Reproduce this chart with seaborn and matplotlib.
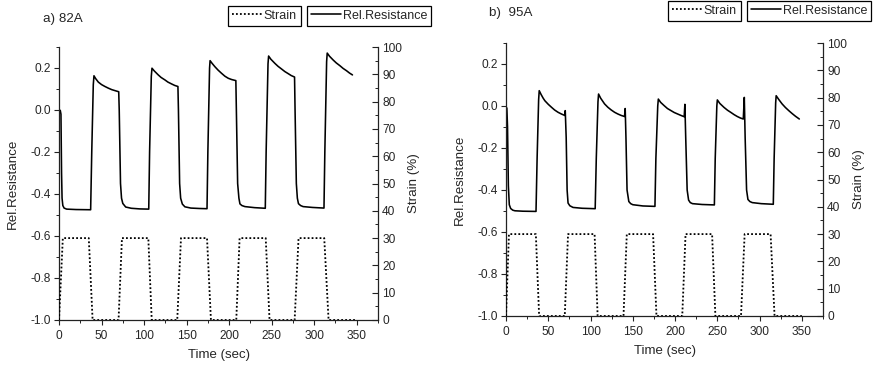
import numpy as np
import pandas as pd
import matplotlib
matplotlib.use("Agg")
import matplotlib.pyplot as plt
from matplotlib.ticker import MultipleLocator, FormatStrFormatter
import seaborn as sns

# ---------------- data ----------------
# Panel a) 82A
t_res_a = [0, 1.5, 2.3, 3.0, 3.6, 4.5, 6, 9, 20, 37.2,
           38.5, 40.3, 41.1,
           43, 46.2, 50, 54, 58, 62, 66, 70.2,
           70.8, 72.3, 73.5, 75, 78.4, 85, 95, 105.5,
           106.5, 108.5, 109.3,
           112, 116.7, 120, 124.6, 128, 132.4, 136, 139.8,
           140.4, 141.8, 143, 145, 148, 155, 165, 174,
           175, 177, 177.6,
           180, 183.3, 187, 191, 195, 199, 203, 207.9,
           208.5, 210, 211.5, 212.7, 215, 218.6, 230, 242.5,
           243.5, 245.7, 246.4,
           249, 253.8, 257.5, 261.7, 265.5, 269.5, 273, 276.9,
           277.5, 279, 280.2, 281.5, 284, 287, 298, 311.5,
           312.5, 314.6, 315.3,
           318, 322.3, 326, 330.2, 334, 338, 341.5, 345]
res_a = [0.0, -0.002, -0.02, -0.30, -0.42, -0.455, -0.467, -0.472, -0.474, -0.475,
         -0.2, 0.12, 0.163,
         0.15, 0.133, 0.121, 0.112, 0.104, 0.097, 0.092, 0.087,
         0.0, -0.35, -0.42, -0.445, -0.462, -0.468, -0.471, -0.472,
         -0.2, 0.16, 0.199,
         0.186, 0.167, 0.155, 0.143, 0.133, 0.124, 0.117, 0.112,
         0.0, -0.35, -0.42, -0.448, -0.461, -0.467, -0.469, -0.470,
         -0.2, 0.2, 0.235,
         0.222, 0.206, 0.19, 0.175, 0.161, 0.151, 0.145, 0.140,
         0.0, -0.35, -0.42, -0.447, -0.455, -0.46, -0.465, -0.468,
         -0.2, 0.22, 0.257,
         0.242, 0.222, 0.208, 0.195, 0.183, 0.173, 0.164, 0.157,
         0.0, -0.35, -0.42, -0.446, -0.455, -0.46, -0.464, -0.467,
         -0.2, 0.23, 0.271,
         0.256, 0.238, 0.224, 0.211, 0.198, 0.187, 0.176, 0.167]
t_str_a = [0, 4.5, 35, 39.5, 70, 74, 105, 109, 139, 143.4, 174, 178.6,
           208.4, 212.3, 243, 247.5, 277, 281.6, 311.8, 316.9, 350]
str_a = [0, 30, 30, 0, 0, 30, 30, 0, 0, 30, 30, 0,
         0, 30, 30, 0, 0, 30, 30, 0, 0]

# Panel b) 95A
t_res_b = [0, 1.0, 1.8, 2.8, 3.9, 5.5, 8, 10.6, 20, 35.5,
           36.8, 38.6, 39.3,
           41.5, 44, 46, 50, 53.8, 57.5, 61.6, 65.5, 69.5,
           70.1, 71.2, 72.3, 73.4, 75.5, 79.3, 90, 105.5,
           106.8, 108.8, 109.5,
           112, 116.6, 120.5, 124.5, 128.5, 132.3, 136.3, 140.2,
           141.0, 141.9, 143.2, 145.3, 147.5, 150, 162, 176.2,
           177.3, 179.5, 180.2,
           183, 187.3, 191, 195.2, 199, 203, 207, 210.8,
           211.6, 212.6, 214.3, 216, 218, 220.6, 232, 246.5,
           247.5, 249.4, 250,
           253, 258, 262, 265.8, 269.8, 273.6, 277.2, 280.7,
           281.9, 282.9, 284.6, 286.2, 288.5, 291.3, 302, 316.2,
           317.2, 319, 319.6,
           322.5, 326.6, 330.5, 334.5, 338.5, 342.5, 347]
res_b = [-0.005, -0.01, -0.1, -0.38, -0.47, -0.488, -0.496, -0.499, -0.501, -0.502,
         -0.25, 0.03, 0.073,
         0.055, 0.037, 0.025, 0.008, -0.006, -0.019, -0.03, -0.038, -0.045,
         -0.022, -0.15, -0.40, -0.462, -0.475, -0.483, -0.487, -0.489,
         -0.25, 0.02, 0.057,
         0.037, 0.010, -0.006, -0.019, -0.03, -0.038, -0.045, -0.05,
         -0.012, -0.15, -0.40, -0.455, -0.465, -0.47, -0.476, -0.478,
         -0.25, 0.0, 0.033,
         0.017, 0.001, -0.012, -0.022, -0.031, -0.038, -0.045, -0.051,
         0.008, -0.15, -0.40, -0.448, -0.46, -0.465, -0.469, -0.471,
         -0.25, 0.0, 0.029,
         0.012, -0.007, -0.02, -0.03, -0.041, -0.05, -0.057, -0.062,
         0.041, -0.15, -0.40, -0.445, -0.455, -0.46, -0.465, -0.468,
         -0.25, 0.015, 0.049,
         0.032, 0.010, -0.007, -0.022, -0.036, -0.049, -0.062]
t_str_b = [0, 3.5, 35.3, 39.2, 69.5, 73.4, 104.8, 108.4, 139, 142.9, 174, 178,
           208.5, 212.4, 243.8, 247.7, 278, 282.3, 313, 317.7, 350]
str_b = [0, 30, 30, 0, 0, 30, 30, 0, 0, 30, 30, 0,
         0, 30, 30, 0, 0, 30, 30, 0, 0]

panel_titles = ["a) 82A", "b)  95A"]
x_label = "Time (sec)"
y_label_left = "Rel.Resistance"
y_label_right = "Strain (%)"
legend_strain = "Strain"
legend_res = "Rel.Resistance"

# ---------------- style ----------------
sns.set_style("white")
plt.rcParams["font.family"] = ["Liberation Sans", "DejaVu Sans"]
plt.rcParams["axes.unicode_minus"] = False

W, H = 877, 367
fig = plt.figure(figsize=(W / 100, H / 100), dpi=100)


def rect(l, r, t, b):
    return [l / W, 1 - b / H, (r - l) / W, (b - t) / H]


panels = [
    dict(rect=rect(59, 378, 47, 320), t_res=t_res_a, res=res_a, t_str=t_str_a,
         strain=str_a, title=panel_titles[0], title_xy=(43, 19),
         leg_s=(228, 6), leg_r=(307, 6)),
    dict(rect=rect(506, 823, 43, 316), t_res=t_res_b, res=res_b, t_str=t_str_b,
         strain=str_b, title=panel_titles[1], title_xy=(489, 13),
         leg_s=(668, 1), leg_r=(747, 1)),
]

SPINE = "#222222"
DOT = (0, (1, 1.2))

for p in panels:
    ax = fig.add_axes(p["rect"])
    ax2 = ax.twinx()
    df_r = pd.DataFrame({"t": p["t_res"], "v": p["res"]})
    df_s = pd.DataFrame({"t": p["t_str"], "v": p["strain"]})
    sns.lineplot(data=df_r, x="t", y="v", ax=ax, color="black", lw=1.15,
                 estimator=None, sort=False)
    sns.lineplot(data=df_s, x="t", y="v", ax=ax2, color="black", lw=1.3,
                 estimator=None, sort=False, linestyle=DOT)
    line_r = ax.get_lines()[0]
    line_s = ax2.get_lines()[0]

    ax.set_xlim(0, 375)
    ax.set_ylim(-1.0, 0.3)
    ax2.set_ylim(0, 100)

    ax.xaxis.set_major_locator(MultipleLocator(50))
    ax.xaxis.set_minor_locator(MultipleLocator(25))
    ax.yaxis.set_major_locator(MultipleLocator(0.2))
    ax.yaxis.set_minor_locator(MultipleLocator(0.1))
    ax.yaxis.set_major_formatter(FormatStrFormatter("%.1f"))
    ax2.yaxis.set_major_locator(MultipleLocator(10))
    ax2.yaxis.set_minor_locator(MultipleLocator(5))

    for a in (ax, ax2):
        a.spines["top"].set_visible(False)
        for s in a.spines.values():
            s.set_color(SPINE)
            s.set_linewidth(0.9)
    ax.spines["right"].set_visible(False)
    ax2.spines["left"].set_visible(False)
    ax2.spines["bottom"].set_visible(False)

    ax.tick_params(axis="both", which="major", direction="out", length=3.5,
                   width=0.8, color=SPINE, labelsize=8.6, pad=2.5)
    ax.tick_params(axis="both", which="minor", direction="out", length=2,
                   width=0.7, color=SPINE)
    ax.tick_params(axis="x", which="major", pad=3.5)
    ax.tick_params(axis="y", left=True, right=False, which="both")
    ax.tick_params(axis="x", bottom=True, which="both")
    ax2.tick_params(axis="y", which="major", direction="in", length=4,
                    width=0.8, color=SPINE, labelsize=8.6, pad=3)
    ax2.tick_params(axis="y", which="minor", direction="in", length=2,
                    width=0.7, color=SPINE)

    ax.set_xlabel(x_label, fontsize=9.5, labelpad=5)
    ax.set_ylabel(y_label_left, fontsize=9.6, labelpad=8)
    ax2.set_ylabel(y_label_right, fontsize=9.6, labelpad=4)

    tx, ty = p["title_xy"]
    fig.text(tx / W, 1 - ty / H, p["title"], fontsize=9.6, ha="left",
             va="center")

    for handle, label, pos in ((line_s, legend_strain, p["leg_s"]),
                               (line_r, legend_res, p["leg_r"])):
        leg = fig.legend(handles=[handle], labels=[label], loc="upper left",
                         bbox_to_anchor=(pos[0] / W, 1 - pos[1] / H),
                         bbox_transform=fig.transFigure, fontsize=9,
                         frameon=True, fancybox=False, shadow=False,
                         borderpad=0.3, borderaxespad=0, handlelength=2.4,
                         handletextpad=0.15, framealpha=1)
        leg.get_frame().set_edgecolor("black")
        leg.get_frame().set_linewidth(0.9)

fig.savefig("out.png", dpi=100)
